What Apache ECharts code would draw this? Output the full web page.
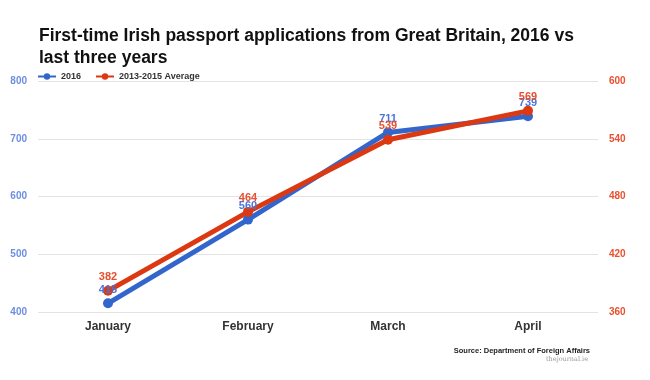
<!DOCTYPE html>
<html><head><meta charset="utf-8">
<script src="https://cdn.jsdelivr.net/npm/echarts@6/dist/echarts.min.js"></script>
<style>html,body{margin:0;padding:0;background:#fff}#c{width:650px;height:380px}</style>
</head><body><div id="c"></div>
<script>
const categories = ['January', 'February', 'March', 'April'];
const series2016 = [415, 560, 711, 739];
const seriesAvg = [382, 464, 539, 569];
const leftTicks = [400, 500, 600, 700, 800];
const rightTicks = [360, 420, 480, 540, 600];

const blue = '#3366cc';
const red = '#dc3912';
const chart = echarts.init(document.getElementById('c'));
chart.setOption({
  animation: false,
  backgroundColor: '#fff',
  textStyle: { fontFamily: 'Liberation Sans, Arial, sans-serif' },
  title: [{
    text: 'First-time Irish passport applications from Great Britain, 2016 vs\nlast three years',
    left: 34, top: 20,
    textStyle: { fontSize: 17.5, fontWeight: 'bold', color: '#111', lineHeight: 22, fontFamily: 'Liberation Sans, Arial, sans-serif' }
  }, {
    text: 'Source: Department of Foreign Affairs',
    right: 55, top: 342,
    textStyle: { fontSize: 7.5, fontWeight: 'bold', color: '#222' }
  }, {
    text: 'thejournal.ie',
    right: 57, top: 351,
    textStyle: { fontSize: 6.5, fontWeight: 'normal', color: '#999', fontFamily: 'DejaVu Serif, serif' }
  }],
  legend: {
    left: 32, top: 67,
    itemWidth: 18, itemHeight: 8, itemGap: 14,
    textStyle: { fontSize: 9, fontWeight: 'bold', color: '#333' },
    data: ['2016', '2013-2015 Average']
  },
  grid: { left: 38, right: 52, top: 81, bottom: 68 },
  xAxis: {
    type: 'category', data: categories,
    axisLine: { show: false }, axisTick: { show: false },
    axisLabel: { fontSize: 12, fontWeight: 'bold', color: '#333', margin: 9 }
  },
  yAxis: [{
    type: 'value', min: leftTicks[0], max: leftTicks[leftTicks.length - 1], interval: 100,
    axisLine: { show: false }, axisTick: { show: false },
    splitLine: { lineStyle: { color: '#e3e3e3', width: 1 } },
    axisLabel: { fontSize: 10, fontWeight: 'bold', color: '#6d8ee0', margin: 11 }
  }, {
    type: 'value', min: rightTicks[0], max: rightTicks[rightTicks.length - 1], interval: 60,
    axisLine: { show: false }, axisTick: { show: false },
    splitLine: { show: false },
    axisLabel: { fontSize: 10, fontWeight: 'bold', color: '#e8502f', margin: 11 }
  }],
  series: [{
    name: '2016', type: 'line', yAxisIndex: 0, data: series2016,
    color: blue, symbol: 'circle', symbolSize: 10,
    lineStyle: { width: 5, color: blue },
    itemStyle: { color: blue },
    label: { show: true, position: 'top', distance: 3, fontSize: 11, fontWeight: 'bold', color: '#4a74d8' }
  }, {
    name: '2013-2015 Average', type: 'line', yAxisIndex: 1, data: seriesAvg,
    color: red, symbol: 'circle', symbolSize: 10,
    lineStyle: { width: 5, color: red },
    itemStyle: { color: red },
    label: { show: true, position: 'top', distance: 3, fontSize: 11, fontWeight: 'bold', color: '#e8502f' }
  }]
});
</script></body></html>
